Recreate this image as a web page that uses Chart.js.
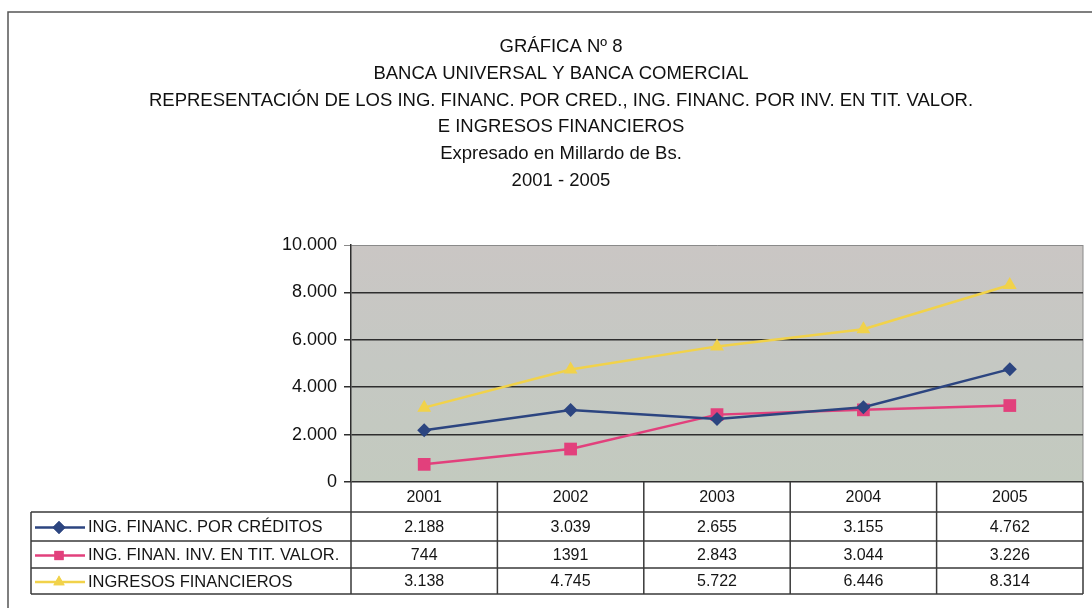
<!DOCTYPE html>
<html>
<head>
<meta charset="utf-8">
<script src="https://cdn.jsdelivr.net/npm/chart.js@4.4.1/dist/chart.umd.min.js"></script>
<style>
  html, body { margin: 0; padding: 0; background: #ffffff; }
  #wrap { width: 1092px; height: 608px; position: relative; }
</style>
</head>
<body>
<div id="wrap"><canvas id="c" width="1092" height="608"></canvas></div>
<script>
// ---- data ----
const years = ['2001', '2002', '2003', '2004', '2005'];
const seriesNames = ['ING. FINANC. POR CRÉDITOS', 'ING. FINAN. INV. EN TIT. VALOR.', 'INGRESOS FINANCIEROS'];
const creditos = [2188, 3039, 2655, 3155, 4762];
const inversiones = [744, 1391, 2843, 3044, 3226];
const ingresos = [3138, 4745, 5722, 6446, 8314];
const creditosLabels = ['2.188', '3.039', '2.655', '3.155', '4.762'];
const inversionesLabels = ['744', '1391', '2.843', '3.044', '3.226'];
const ingresosLabels = ['3.138', '4.745', '5.722', '6.446', '8.314'];
const yTicks = [0, 2000, 4000, 6000, 8000, 10000];
const titleLines = [
  'GRÁFICA Nº 8',
  'BANCA UNIVERSAL Y BANCA COMERCIAL',
  'REPRESENTACIÓN DE LOS ING. FINANC. POR CRED., ING. FINANC. POR INV. EN TIT. VALOR.',
  'E INGRESOS FINANCIEROS',
  'Expresado en Millardo de Bs.',
  '2001 - 2005'
];

const colBlue = '#2c4580';
const colPink = '#e2407c';
const colYellow = '#f1d24a';
const SANS = '"Liberation Sans", Arial, sans-serif';

function fmtThousands(v) {
  return String(v).replace(/\B(?=(\d{3})+(?!\d))/g, '.');
}

const backgroundPlugin = {
  id: 'plotBg',
  beforeDraw(chart) {
    const { ctx, chartArea: a } = chart;
    ctx.save();
    ctx.strokeStyle = '#555';
    ctx.lineWidth = 1.5;
    ctx.beginPath();
    ctx.moveTo(8, chart.height + 2);
    ctx.lineTo(8, 12);
    ctx.lineTo(chart.width + 2, 12);
    ctx.stroke();
    const g = ctx.createLinearGradient(0, a.top, 0, a.bottom);
    g.addColorStop(0, '#cac6c4');
    g.addColorStop(0.5, '#c5c8c3');
    g.addColorStop(1, '#c3cabf');
    ctx.fillStyle = g;
    ctx.fillRect(a.left, a.top, a.right - a.left, a.bottom - a.top);
    ctx.strokeStyle = '#8a8a8a';
    ctx.lineWidth = 1;
    ctx.beginPath();
    ctx.moveTo(a.right, a.top);
    ctx.lineTo(a.right, a.bottom);
    ctx.stroke();
    ctx.restore();
  }
};

const tablePlugin = {
  id: 'dataTable',
  afterDraw(chart) {
    const { ctx, chartArea: a } = chart;
    const xs = chart.scales.x;
    const n = years.length;
    const step = (a.right - a.left) / n;
    const bounds = [];
    for (let i = 0; i <= n; i++) bounds.push(i === n ? a.right : xs.getPixelForValue(i) - step / 2);
    const top = a.bottom;
    const rowY = [top, top + 30, top + 59, top + 86, top + 112];
    const legendLeft = 31;
    const labels = [creditosLabels, inversionesLabels, ingresosLabels];
    const colors = [colBlue, colPink, colYellow];
    const styles = ['rectRot', 'rect', 'triangle'];
    const radii = [6.5, 6.5, 6.5];

    ctx.save();
    ctx.strokeStyle = '#3a3a3a';
    ctx.lineWidth = 1.5;
    ctx.beginPath();
    ctx.moveTo(legendLeft, rowY[1]); ctx.lineTo(a.right, rowY[1]);
    for (let r = 2; r < rowY.length; r++) {
      ctx.moveTo(legendLeft, rowY[r]); ctx.lineTo(a.right, rowY[r]);
    }
    for (let i = 0; i <= n; i++) {
      ctx.moveTo(bounds[i], rowY[0]); ctx.lineTo(bounds[i], rowY[4]);
    }
    ctx.moveTo(legendLeft, rowY[1]); ctx.lineTo(legendLeft, rowY[4]);
    ctx.stroke();

    ctx.fillStyle = '#151515';
    ctx.textAlign = 'center';
    ctx.textBaseline = 'middle';
    ctx.font = '16px ' + SANS;
    for (let i = 0; i < n; i++) {
      ctx.fillText(years[i], xs.getPixelForValue(i), (rowY[0] + rowY[1]) / 2 + 1);
    }
    for (let r = 0; r < 3; r++) {
      const cy = (rowY[r + 1] + rowY[r + 2]) / 2 + 1;
      ctx.font = '16px ' + SANS;
      ctx.textAlign = 'center';
      ctx.fillStyle = '#151515';
      for (let i = 0; i < n; i++) {
        ctx.fillText(labels[r][i], xs.getPixelForValue(i), cy);
      }
      ctx.strokeStyle = colors[r];
      ctx.lineWidth = 2.5;
      ctx.beginPath();
      ctx.moveTo(35, cy); ctx.lineTo(85, cy);
      ctx.stroke();
      ctx.fillStyle = colors[r];
      ctx.beginPath();
      Chart.helpers.drawPoint(ctx, { pointStyle: styles[r], radius: radii[r], rotation: 0, borderWidth: 0 }, 59, cy);
      ctx.fill();
      ctx.fillStyle = '#151515';
      ctx.textAlign = 'left';
      ctx.font = '16.5px ' + SANS;
      ctx.fillText(seriesNames[r], 88, cy);
    }
    ctx.restore();
  }
};

new Chart(document.getElementById('c'), {
  type: 'line',
  data: {
    labels: years,
    datasets: [
      { label: seriesNames[0], data: creditos, borderColor: colBlue, backgroundColor: colBlue,
        pointStyle: 'rectRot', pointRadius: 7, borderWidth: 2.5, pointBorderWidth: 0 },
      { label: seriesNames[1], data: inversiones, borderColor: colPink, backgroundColor: colPink,
        pointStyle: 'rect', pointRadius: 9, borderWidth: 2.5, pointBorderWidth: 0 },
      { label: seriesNames[2], data: ingresos, borderColor: colYellow, backgroundColor: colYellow,
        pointStyle: 'triangle', pointRadius: 8, borderWidth: 2.5, pointBorderWidth: 0 }
    ]
  },
  options: {
    responsive: false,
    animation: false,
    events: [],
    layout: { padding: { left: 30, right: 0, top: 0, bottom: 126 } },
    plugins: {
      legend: { display: false },
      tooltip: { enabled: false },
      title: {
        display: true,
        text: titleLines,
        color: '#111',
        font: { family: SANS, size: 18.5, weight: 'normal', lineHeight: '26.8px' },
        padding: { top: 33.6, bottom: 50.6 }
      }
    },
    scales: {
      x: { display: false, offset: true },
      y: {
        min: 0, max: 10000,
        afterBuildTicks: (s) => { s.ticks = yTicks.map(v => ({ value: v })); },
        afterFit: (s) => { s.width = 321; s.paddingTop = 0; s.paddingBottom = 0; },
        ticks: {
          color: '#111',
          padding: 7,
          font: { family: SANS, size: 18 },
          callback: (v) => fmtThousands(v)
        },
        grid: {
          color: (c) => (c.tick && c.tick.value === 10000 ? '#8a8a8a' : '#2e2e2e'),
          lineWidth: (c) => (c.tick && c.tick.value === 10000 ? 1 : 1.5),
          tickLength: 7,
          drawTicks: true
        },
        border: { color: '#2e2e2e', width: 1.5 }
      }
    }
  },
  plugins: [backgroundPlugin, tablePlugin]
});
</script>
</body>
</html>
